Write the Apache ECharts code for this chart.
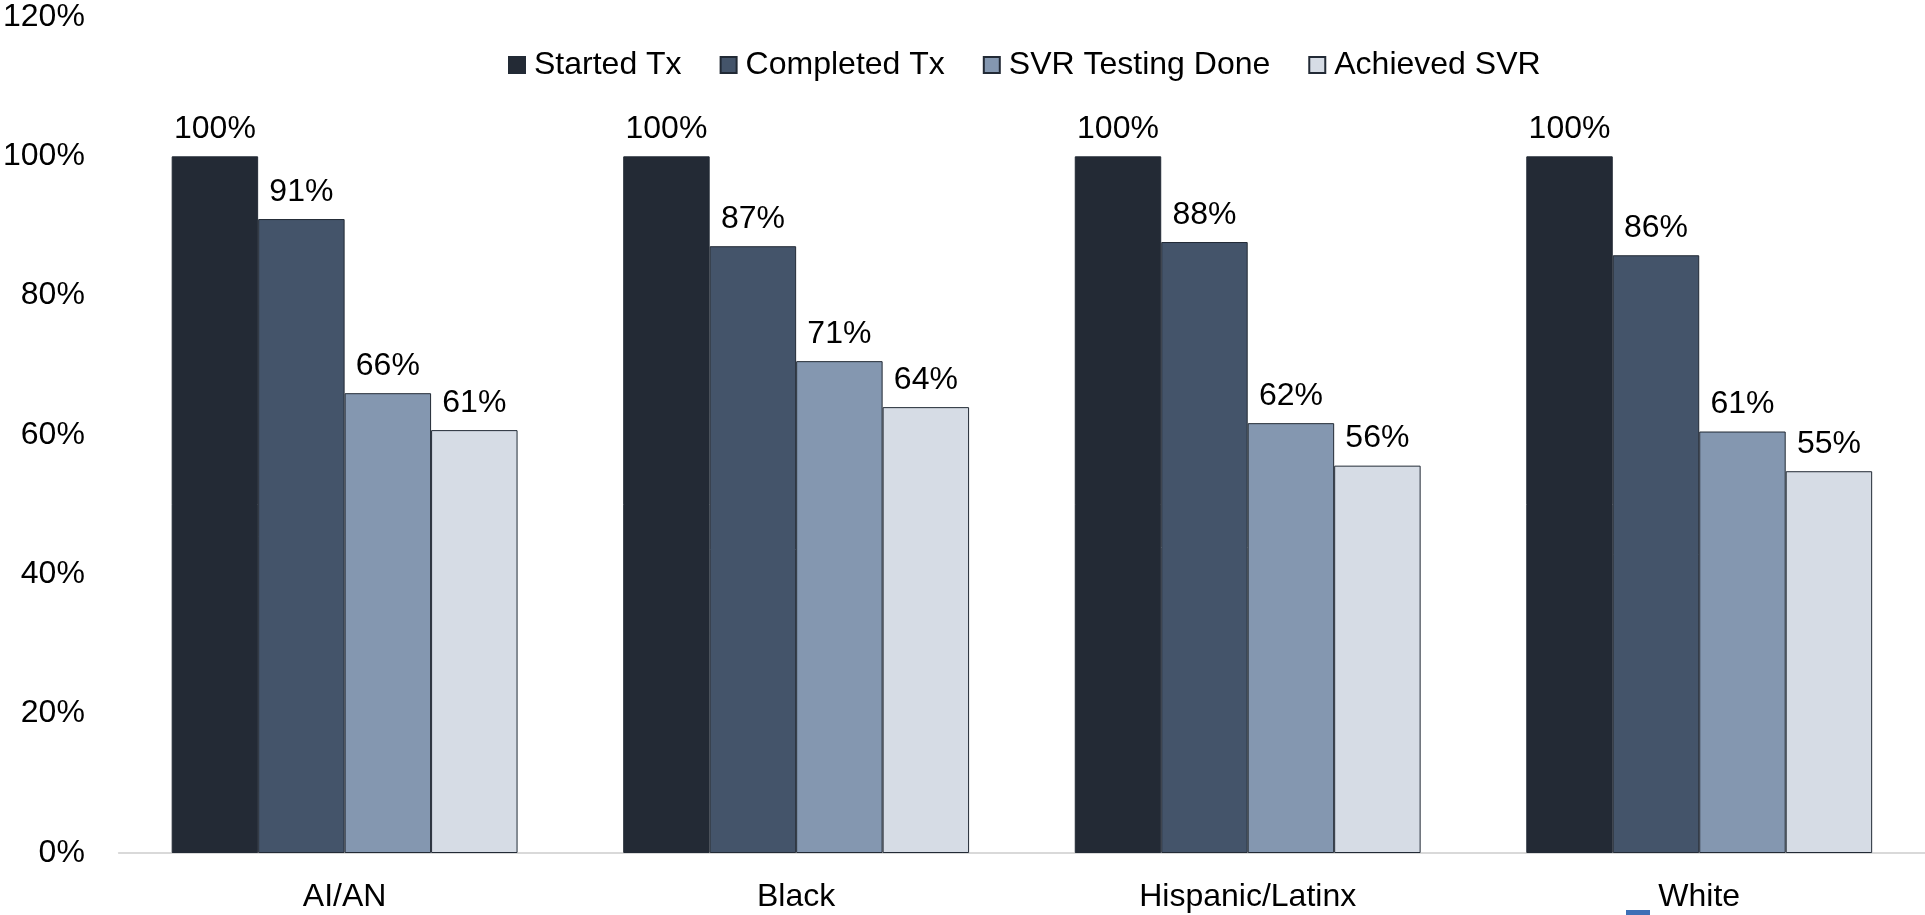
<!DOCTYPE html>
<html>
<head>
<meta charset="utf-8">
<script src="https://cdn.jsdelivr.net/npm/echarts@6/dist/echarts.min.js"></script>
<style>
html,body{margin:0;padding:0;background:#fff;}
#chart{width:1925px;height:915px;}
</style>
</head>
<body>
<div id="chart"></div>
<script>
const categories = ['AI/AN', 'Black', 'Hispanic/Latinx', 'White'];
const seriesNames = ['Started Tx', 'Completed Tx', 'SVR Testing Done', 'Achieved SVR'];
const startedTx = [100, 100, 100, 100];
const completedTx = [91, 87.1, 87.7, 85.8];
const svrTestingDone = [66, 70.6, 61.7, 60.5];
const achievedSvr = [60.7, 64, 55.6, 54.8];
const yTicks = [0, 20, 40, 60, 80, 100, 120];
const colors = ['#232a35', '#44546a', '#8497b0', '#d6dce5'];

const FONT = "'Liberation Sans Narrow', 'Liberation Sans', sans-serif";
const values = [startedTx, completedTx, svrTestingDone, achievedSvr];

const chart = echarts.init(document.getElementById('chart'));
chart.setOption({
  animation: false,
  textStyle: { fontFamily: FONT },
  grid: { left: 117, right: 0, top: 17, bottom: 62, containLabel: false },
  legend: {
    top: 44,
    left: 503,
    itemWidth: 16,
    itemHeight: 16,
    itemGap: 38,
    icon: 'rect',
    textStyle: { fontSize: 32, color: '#000', fontFamily: FONT, padding: [0, 0, 0, 4] },
    data: seriesNames
  },
  xAxis: {
    type: 'category',
    data: categories,
    axisLine: { lineStyle: { color: '#d9d9d9', width: 2 } },
    axisTick: { show: false },
    axisLabel: { fontSize: 32, color: '#000', margin: 28, fontFamily: FONT }
  },
  yAxis: {
    type: 'value',
    min: yTicks[0],
    max: yTicks[yTicks.length - 1],
    interval: yTicks[1] - yTicks[0],
    axisLine: { show: false },
    axisTick: { show: false },
    splitLine: { show: false },
    axisLabel: { fontSize: 32, color: '#000', margin: 34, fontFamily: FONT, formatter: v => v + '%' }
  },
  series: seriesNames.map((name, i) => ({
    name: name,
    type: 'bar',
    data: values[i],
    barGap: '0%',
    barCategoryGap: '23.4%',
    itemStyle: { color: colors[i], borderColor: '#222a35', borderWidth: 1 },
    label: {
      show: true,
      position: 'top',
      distance: 11,
      fontSize: 32,
      color: '#000',
      fontFamily: FONT,
      formatter: p => Math.round(p.value) + '%'
    }
  })),
  graphic: [{
    type: 'rect',
    left: 1626,
    top: 910,
    shape: { width: 24, height: 5 },
    style: { fill: '#3d6fb6' },
    silent: true
  }]
});
</script>
</body>
</html>
